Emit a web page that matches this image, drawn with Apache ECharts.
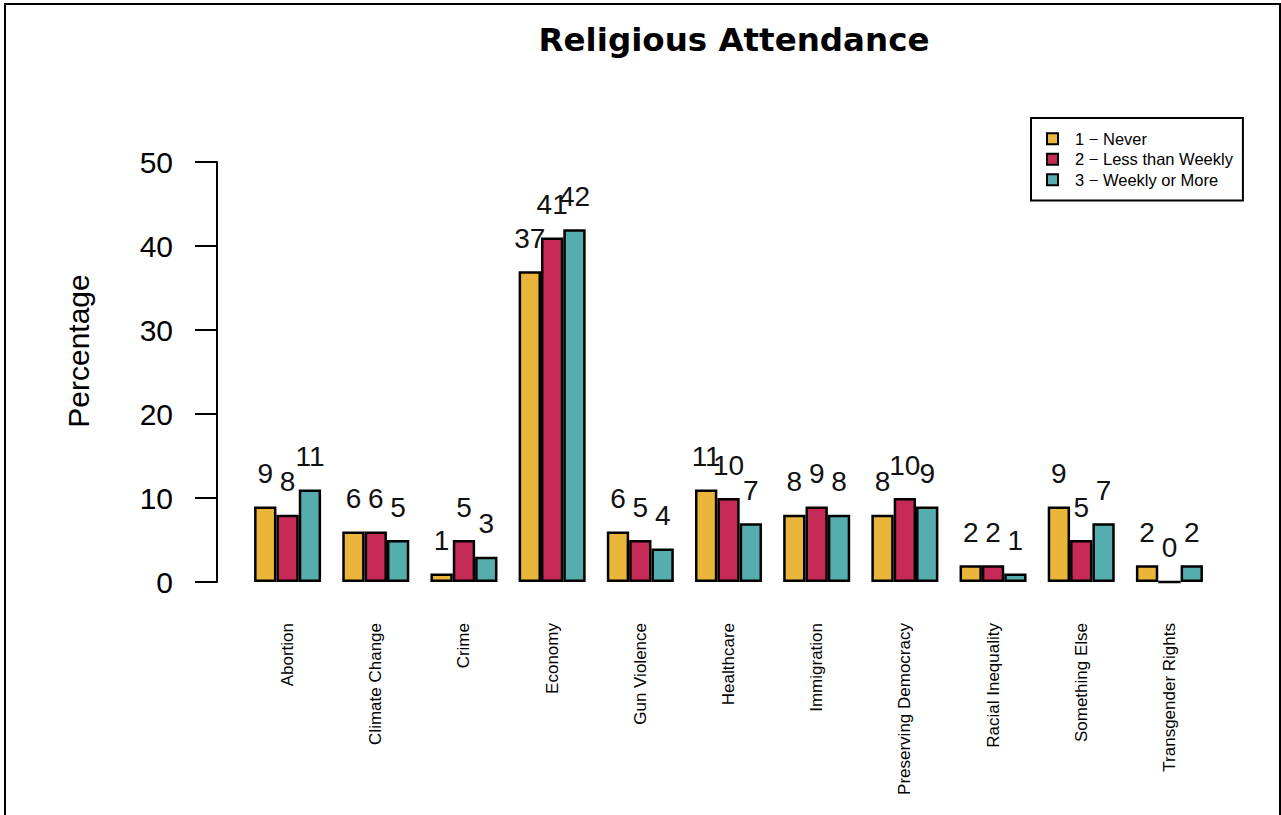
<!DOCTYPE html>
<html>
<head>
<meta charset="utf-8">
<script src="https://cdn.jsdelivr.net/npm/echarts@6/dist/echarts.min.js"></script>
<style>
  html, body { margin: 0; padding: 0; background: #fff; }
  #chart { position: absolute; left: 0; top: 0; width: 1281px; height: 815px; }
  #frame { position: absolute; left: 4px; top: 3px; width: 1273px; height: 820px;
           border-left: 2px solid #000; border-top: 2px solid #000; border-right: 2px solid #000;
           pointer-events: none; }
</style>
</head>
<body>
<div id="chart"></div>
<div id="frame"></div>
<script>
const categories = ["Abortion", "Climate Change", "Crime", "Economy", "Gun Violence", "Healthcare",
  "Immigration", "Preserving Democracy", "Racial Inequality", "Something Else", "Transgender Rights"];
const seriesNames = ["1 \u2212 Never", "2 \u2212 Less than Weekly", "3 \u2212 Weekly or More"];
const never = [9, 6, 1, 37, 6, 11, 8, 8, 2, 9, 2];
const lessThanWeekly = [8, 6, 5, 41, 5, 10, 9, 10, 2, 5, 0];
const weeklyOrMore = [11, 5, 3, 42, 4, 7, 8, 9, 1, 7, 2];
const yTicks = [0, 10, 20, 30, 40, 50];
const colors = ["#EAB53B", "#C62B58", "#56ADAD"];

const chart = echarts.init(document.getElementById('chart'), null, { renderer: 'svg' });
const valuesList = [never, lessThanWeekly, weeklyOrMore];

const series = valuesList.map((vals, i) => ({
  name: seriesNames[i],
  type: 'bar',
  data: vals,
  barGap: '0%',
  barCategoryGap: '24%',
  itemStyle: { color: colors[i], borderColor: '#000', borderWidth: 2.5 },
  label: {
    show: true, position: 'top', distance: 19,
    fontFamily: 'Liberation Sans, Arial, sans-serif', fontSize: 28, color: '#111'
  },
  emphasis: { disabled: true }
}));

chart.setOption({
  animation: false,
  backgroundColor: '#fff',
  title: {
    text: 'Religious Attendance',
    left: 729, top: 18, textAlign: 'center',
    textStyle: { fontFamily: 'DejaVu Sans, sans-serif', fontWeight: 'bold', fontSize: 32.5, color: '#000' }
  },
  legend: {
    orient: 'vertical',
    left: 1031, top: 118,
    padding: [12, 10, 12, 15],
    borderColor: '#000', borderWidth: 2,
    itemWidth: 11, itemHeight: 11, itemGap: 3,
    icon: 'rect',
    textStyle: { fontFamily: 'Liberation Sans, Arial, sans-serif', fontSize: 16.5, color: '#000', lineHeight: 17.5, padding: [0, 0, 0, 12] },
    data: seriesNames.map((n, i) => ({ name: n, itemStyle: { color: colors[i], borderColor: '#000', borderWidth: 2 } }))
  },
  grid: { left: 243.5, right: 67.5, top: 162, bottom: 233, containLabel: false },
  xAxis: {
    type: 'category',
    data: categories,
    axisLine: { show: false },
    axisTick: { show: false },
    axisLabel: {
      interval: 0, rotate: 90, margin: 41,
      fontFamily: 'Liberation Sans, Arial, sans-serif', fontSize: 17, color: '#000'
    }
  },
  yAxis: {
    type: 'value',
    min: yTicks[0], max: yTicks[yTicks.length - 1], interval: 10,
    offset: 26.5,
    axisLine: { show: true, lineStyle: { color: '#000', width: 2 } },
    axisTick: { show: true, length: 22, lineStyle: { color: '#000', width: 2 } },
    splitLine: { show: false },
    axisLabel: {
      margin: 44,
      fontFamily: 'Liberation Sans, Arial, sans-serif', fontSize: 30, color: '#000'
    }
  },
  graphic: [{
    type: 'text',
    x: 78, y: 351,
    rotation: Math.PI / 2,
    style: {
      text: 'Percentage',
      fontFamily: 'Liberation Sans, Arial, sans-serif', fontSize: 30, fill: '#000',
      textAlign: 'center', textVerticalAlign: 'middle'
    }
  }],
  series: series
});
</script>
</body>
</html>
